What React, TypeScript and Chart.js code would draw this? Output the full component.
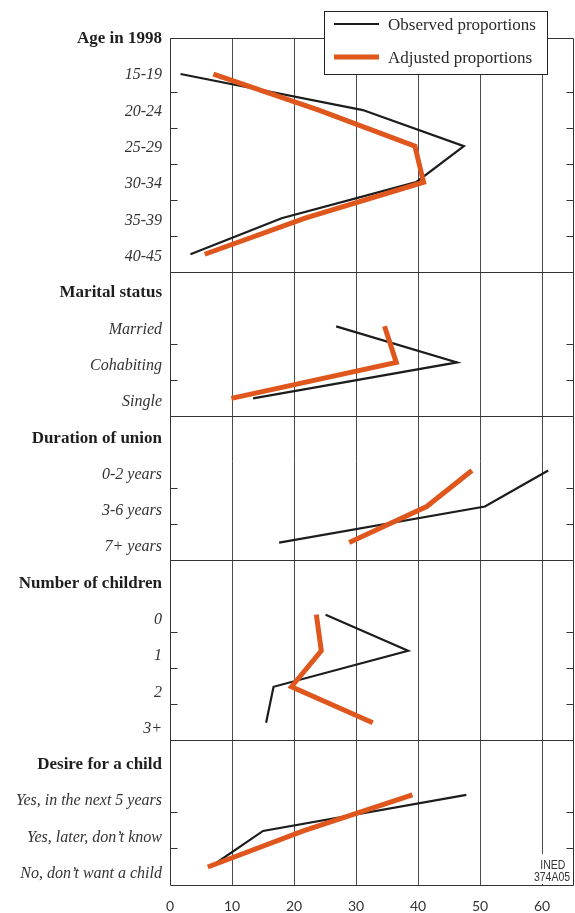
import React, { useEffect, useRef } from "react";
import { Chart, registerables } from "chart.js";

Chart.register(...registerables);

// ---------- data ----------
const sectionTitles = [
  "Age in 1998",
  "Marital status",
  "Duration of union",
  "Number of children",
  "Desire for a child",
];

const ageLabels = ["15-19", "20-24", "25-29", "30-34", "35-39", "40-45"];
const ageObserved = [1.7, 31.1, 47.4, 39.7, 18.0, 3.3];
const ageAdjusted = [7.0, 24.0, 39.5, 40.9, 21.8, 5.6];

const maritalLabels = ["Married", "Cohabiting", "Single"];
const maritalObserved = [26.8, 46.3, 13.4];
const maritalAdjusted = [34.6, 36.5, 9.9];

const durationLabels = ["0-2 years", "3-6 years", "7+ years"];
const durationObserved = [61.0, 50.8, 17.6];
const durationAdjusted = [48.7, 41.4, 28.9];

const childrenLabels = ["0", "1", "2", "3+"];
const childrenObserved = [25.1, 38.4, 16.7, 15.5];
const childrenAdjusted = [23.6, 24.4, 19.6, 32.7];

const desireLabels = [
  "Yes, in the next 5 years",
  "Yes, later, don\u2019t know",
  "No, don\u2019t want a child",
];
const desireObserved = [47.8, 15.0, 6.5];
const desireAdjusted = [39.1, 21.5, 6.1];

const xTickValues = [0, 10, 20, 30, 40, 50, 60];
const legendLabels = ["Observed proportions", "Adjusted proportions"];
const sourceNote = ["INED", "374A05"];

// ---------- layout derived from data ----------
const sections = [
  { title: sectionTitles[0], labels: ageLabels, observed: ageObserved, adjusted: ageAdjusted },
  { title: sectionTitles[1], labels: maritalLabels, observed: maritalObserved, adjusted: maritalAdjusted },
  { title: sectionTitles[2], labels: durationLabels, observed: durationObserved, adjusted: durationAdjusted },
  { title: sectionTitles[3], labels: childrenLabels, observed: childrenObserved, adjusted: childrenAdjusted },
  { title: sectionTitles[4], labels: desireLabels, observed: desireObserved, adjusted: desireAdjusted },
];

const LABEL_DRIFT = 1.007; // text rows sit slightly lower than the data rows further down

type Row = { pos: number; labelPos: number; text: string; header: boolean };
const rows: Row[] = [];
const separators: number[] = [];
const innerTicks: number[] = [];
const sectionPositions: number[][] = [];
let cursor = 0;
sections.forEach((s) => {
  rows.push({ pos: cursor, labelPos: cursor * LABEL_DRIFT, text: s.title, header: true });
  const ps = s.labels.map((l, i) => {
    const p = cursor + 1 + i;
    rows.push({ pos: p, labelPos: p * LABEL_DRIFT, text: l, header: false });
    return p;
  });
  sectionPositions.push(ps);
  for (let i = 0; i < ps.length - 1; i++) innerTicks.push(ps[i] + 0.5);
  cursor += s.labels.length + 1;
  separators.push(cursor - 0.5);
});
const yMax = cursor - 0.5;
const rowAt = (v: number) => rows.find((r) => Math.abs(r.labelPos - v) < 1e-6);

const BLACK = "#1c1c1c";
const ORANGE = "#df571d";
const SERIF = '"Liberation Serif", "Times New Roman", serif';

const datasets: any[] = [];
sections.forEach((s, k) => {
  datasets.push({
    label: legendLabels[0],
    data: s.observed.map((v, i) => ({ x: v, y: sectionPositions[k][i] })),
    borderColor: BLACK,
    borderWidth: 2.2,
    pointRadius: 0,
    fill: false,
    tension: 0,
    order: 2,
  });
  datasets.push({
    label: legendLabels[1],
    data: s.adjusted.map((v, i) => ({ x: v, y: sectionPositions[k][i] })),
    borderColor: ORANGE,
    borderWidth: 5,
    pointRadius: 0,
    fill: false,
    tension: 0,
    order: 1,
  });
});

const al = (p: number) => Math.round(p + 0.5) - 0.5;

const decorPlugin = {
  id: "decor",
  beforeDatasetsDraw(chart: any) {
    const { ctx, chartArea: a, scales } = chart;
    const y = scales.y;
    ctx.save();
    ctx.strokeStyle = "#333";
    ctx.lineWidth = 1;
    const L = al(a.left), R = al(a.right), T = al(a.top), B = al(a.bottom);
    ctx.beginPath();
    ctx.rect(L, T, R - L, B - T);
    separators.slice(0, -1).forEach((s) => {
      const py = al(y.getPixelForValue(s));
      ctx.moveTo(L, py);
      ctx.lineTo(R, py);
    });
    innerTicks.forEach((t) => {
      const py = al(y.getPixelForValue(t));
      ctx.moveTo(L, py);
      ctx.lineTo(L + 7, py);
      ctx.moveTo(R - 7, py);
      ctx.lineTo(R, py);
    });
    ctx.stroke();
    ctx.restore();
  },
  afterDraw(chart: any) {
    const { ctx, chartArea: a } = chart;
    ctx.save();
    // legend
    ctx.fillStyle = "#fff";
    ctx.fillRect(324.5, 11.5, 223, 63);
    ctx.strokeStyle = "#222";
    ctx.lineWidth = 1;
    ctx.strokeRect(324.5, 11.5, 223, 63);
    ctx.lineCap = "butt";
    ctx.strokeStyle = BLACK;
    ctx.lineWidth = 2.2;
    ctx.beginPath();
    ctx.moveTo(334, 24);
    ctx.lineTo(379, 24);
    ctx.stroke();
    ctx.strokeStyle = ORANGE;
    ctx.lineWidth = 5;
    ctx.beginPath();
    ctx.moveTo(334, 57);
    ctx.lineTo(379, 57);
    ctx.stroke();
    ctx.fillStyle = "#2a2a2a";
    ctx.font = `17px ${SERIF}`;
    ctx.textAlign = "left";
    ctx.textBaseline = "alphabetic";
    ctx.fillText(legendLabels[0], 388, 29.5);
    ctx.fillText(legendLabels[1], 388, 62.5);
    // source note
    ctx.fillStyle = "#fff";
    ctx.fillRect(a.right - 42, a.bottom - 31, 40, 30);
    ctx.fillStyle = "#333";
    ctx.font = '12.5px "Liberation Sans", sans-serif';
    ctx.textAlign = "center";
    const cx = a.right - 21;
    ctx.translate(cx, 0);
    ctx.scale(0.84, 1);
    ctx.fillText(sourceNote[0], 1, a.bottom - 16);
    ctx.fillText(sourceNote[1], 0, a.bottom - 4);
    ctx.restore();
  },
};

export default function App() {
  const ref = useRef<HTMLCanvasElement | null>(null);
  useEffect(() => {
    if (!ref.current) return;
    const chart = new Chart(ref.current, {
      type: "line",
      data: { datasets },
      options: {
        animation: false,
        responsive: false,
        devicePixelRatio: 1,
        layout: { padding: { top: 38, right: 2, left: 0, bottom: 0 } },
        plugins: { legend: { display: false }, tooltip: { enabled: false } },
        scales: {
          x: {
            type: "linear",
            min: 0,
            max: 65,
            afterBuildTicks: (scale: any) => {
              scale.ticks = xTickValues.map((v) => ({ value: v }));
            },
            afterFit: (scale: any) => {
              scale.height = 28;
            },
            grid: { color: "#4a4a4a", lineWidth: 1, drawTicks: false },
            border: { display: false },
            ticks: {
              padding: 13,
              color: "#333",
              font: { family: "Lato, sans-serif", size: 14 },
              autoSkip: false,
              maxRotation: 0,
            },
          },
          y: {
            type: "linear",
            min: 0,
            max: yMax,
            reverse: true,
            afterBuildTicks: (scale: any) => {
              scale.ticks = rows.map((r) => ({ value: r.labelPos }));
            },
            afterFit: (scale: any) => {
              scale.width = 170;
            },
            grid: { display: false, drawTicks: false },
            border: { display: false },
            ticks: {
              autoSkip: false,
              padding: 8,
              labelOffset: 1,
              callback: (v: any) => rowAt(Number(v))?.text ?? "",
              color: (c: any) => (rowAt(c.tick?.value)?.header ? "#1e1e1e" : "#333"),
              font: (c: any) =>
                rowAt(c.tick?.value)?.header
                  ? { family: SERIF, size: 17, weight: "bold", style: "normal" }
                  : { family: SERIF, size: 16, weight: "normal", style: "italic" },
            },
          },
        },
      },
      plugins: [decorPlugin],
    } as any);
    return () => chart.destroy();
  }, []);
  return (
    <div style={{ position: "absolute", left: 0, top: 0, width: 575, height: 913, background: "#fff" }}>
      <canvas ref={ref} width={575} height={913} />
    </div>
  );
}
